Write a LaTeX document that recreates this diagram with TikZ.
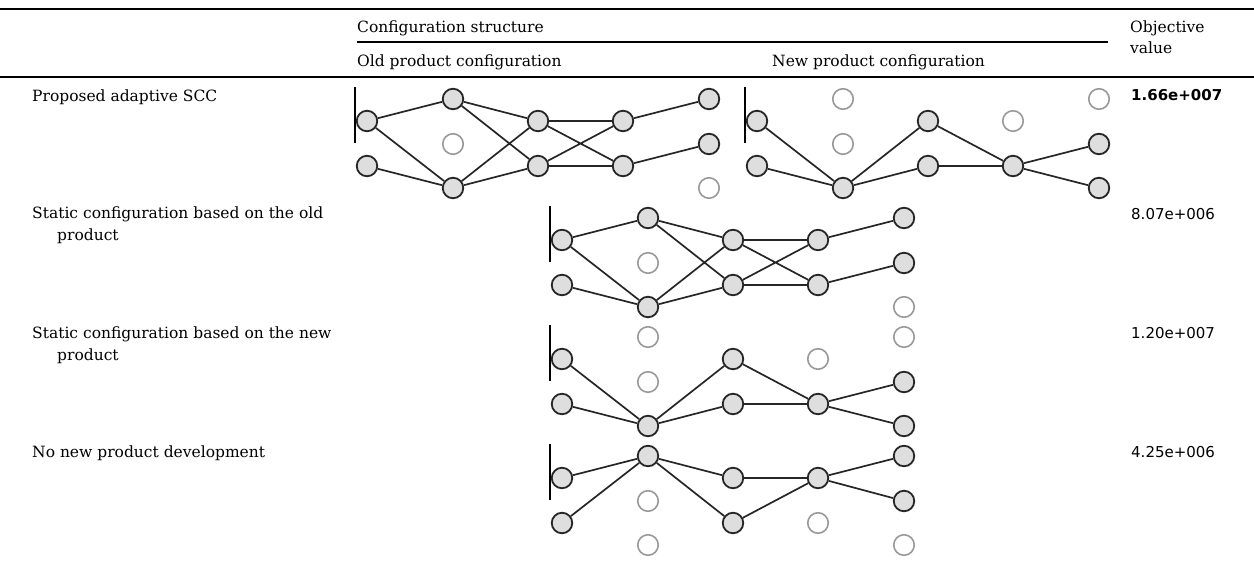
\documentclass[tikz,border=0pt]{standalone}
\usepackage{fontspec}
\setmainfont{DejaVu Serif}
\newfontfamily\valfont{DejaVu Sans}
\definecolor{nodegray}{gray}{0.87}
\definecolor{sparegray}{gray}{0.6}
\newcommand{\txtsize}{\fontsize{15.5}{22}\selectfont}
\newcommand{\valsize}{\valfont\fontsize{15}{18}\selectfont}
\tikzset{
    used/.style={circle, draw=black!85, fill=nodegray, line width=1.8pt, minimum size=20.5pt, inner sep=0pt},
    unused/.style={circle, draw=sparegray, fill=white, line width=1.6pt, minimum size=20.5pt, inner sep=0pt},
    link/.style={line width=1.7pt, draw=black!85},
    rule/.style={line width=2.6pt},
    netbar/.style={line width=1.1pt},
    lab/.style={anchor=base west, inner sep=0pt, font=\txtsize},
    val/.style={anchor=base west, inner sep=0pt, font=\valsize}
}
% old product configuration, #1 = prefix, (#2,#3) = first column, top level
\newcommand{\oldconfig}[3]{
    \begin{scope}[shift={(#2,#3)}]
        \draw[netbar] (-12,-12) -- (-12,44);
        \node[used] (#1a2) at (0,22) {};
        \node[used] (#1a4) at (0,67) {};
        \node[used] (#1b1) at (86,0) {};
        \node[unused] (#1b3) at (86,45) {};
        \node[used] (#1b5) at (86,89) {};
        \node[used] (#1c2) at (171,22) {};
        \node[used] (#1c4) at (171,67) {};
        \node[used] (#1d2) at (256,22) {};
        \node[used] (#1d4) at (256,67) {};
        \node[used] (#1e1) at (342,0) {};
        \node[used] (#1e3) at (342,45) {};
        \node[unused] (#1e5) at (342,89) {};
    \end{scope}
    \draw[link] (#1a2) -- (#1b1) (#1a2) -- (#1b5) (#1a4) -- (#1b5);
    \draw[link] (#1b1) -- (#1c2) (#1b1) -- (#1c4) (#1b5) -- (#1c2) (#1b5) -- (#1c4);
    \draw[link] (#1c2) -- (#1d2) (#1c2) -- (#1d4) (#1c4) -- (#1d2) (#1c4) -- (#1d4);
    \draw[link] (#1d2) -- (#1e1) (#1d4) -- (#1e3);
}
% new product configuration
\newcommand{\newconfig}[3]{
    \begin{scope}[shift={(#2,#3)}]
        \draw[netbar] (-12,-12) -- (-12,44);
        \node[used] (#1a2) at (0,22) {};
        \node[used] (#1a4) at (0,67) {};
        \node[unused] (#1b1) at (86,0) {};
        \node[unused] (#1b3) at (86,45) {};
        \node[used] (#1b5) at (86,89) {};
        \node[used] (#1c2) at (171,22) {};
        \node[used] (#1c4) at (171,67) {};
        \node[unused] (#1d2) at (256,22) {};
        \node[used] (#1d4) at (256,67) {};
        \node[unused] (#1e1) at (342,0) {};
        \node[used] (#1e3) at (342,45) {};
        \node[used] (#1e5) at (342,89) {};
    \end{scope}
    \draw[link] (#1a2) -- (#1b5) (#1a4) -- (#1b5);
    \draw[link] (#1b5) -- (#1c2) (#1b5) -- (#1c4);
    \draw[link] (#1c2) -- (#1d4) (#1c4) -- (#1d4);
    \draw[link] (#1d4) -- (#1e3) (#1d4) -- (#1e5);
}
\begin{document}
\begin{tikzpicture}[x=1pt, y=-1pt]
        \useasboundingbox (0,0) rectangle (1254,563);
        % table rules
        \draw[rule] (0,9) -- (1254,9);
        \draw[rule] (357,42) -- (1108,42);
        \draw[rule] (0,77) -- (1254,77);
        % header
        \node[lab] (conf) at (357,32) {Configuration structure};
        \node[lab] (oldhead) at (357,66) {Old product configuration};
        \node[lab] (newhead) at (772,66) {New product configuration};
        \node[lab] (objhead) at (1130,32) {Objective};
        \node[lab] (objhead2) at (1130,53) {value};
        % row labels
        \node[lab] (adaptive) at (32,101) {Proposed adaptive SCC};
        \node[lab] (staticold) at (32,218) {Static configuration based on the old};
        \node[lab] (staticold2) at (57,240) {product};
        \node[lab] (staticnew) at (32,338) {Static configuration based on the new};
        \node[lab] (staticnew2) at (57,360) {product};
        \node[lab] (nonew) at (32,457) {No new product development};
        % objective values
        \node[val] (v1) at (1131,100) {\bfseries 1.66e+007};
        \node[val] (v2) at (1131,219) {8.07e+006};
        \node[val] (v3) at (1131,338) {1.20e+007};
        \node[val] (v4) at (1131,457) {4.25e+006};
        % configurations
        \oldconfig{p}{367}{99}
        \newconfig{q}{757}{99}
        \oldconfig{s}{562}{218}
        \newconfig{t}{562}{337}
        % no new product development
        \begin{scope}[shift={(562,456)}]
            \draw[netbar] (-12,-12) -- (-12,44);
            \node[used] (na2) at (0,22) {};
            \node[used] (na4) at (0,67) {};
            \node[used] (nb1) at (86,0) {};
            \node[unused] (nb3) at (86,45) {};
            \node[unused] (nb5) at (86,89) {};
            \node[used] (nc2) at (171,22) {};
            \node[used] (nc4) at (171,67) {};
            \node[used] (nd2) at (256,22) {};
            \node[unused] (nd4) at (256,67) {};
            \node[used] (ne1) at (342,0) {};
            \node[used] (ne3) at (342,45) {};
            \node[unused] (ne5) at (342,89) {};
        \end{scope}
        \draw[link] (na2) -- (nb1) (na4) -- (nb1);
        \draw[link] (nb1) -- (nc2) (nb1) -- (nc4);
        \draw[link] (nc2) -- (nd2) (nc4) -- (nd2);
        \draw[link] (nd2) -- (ne1) (nd2) -- (ne3);
    \end{tikzpicture}
\end{document}
